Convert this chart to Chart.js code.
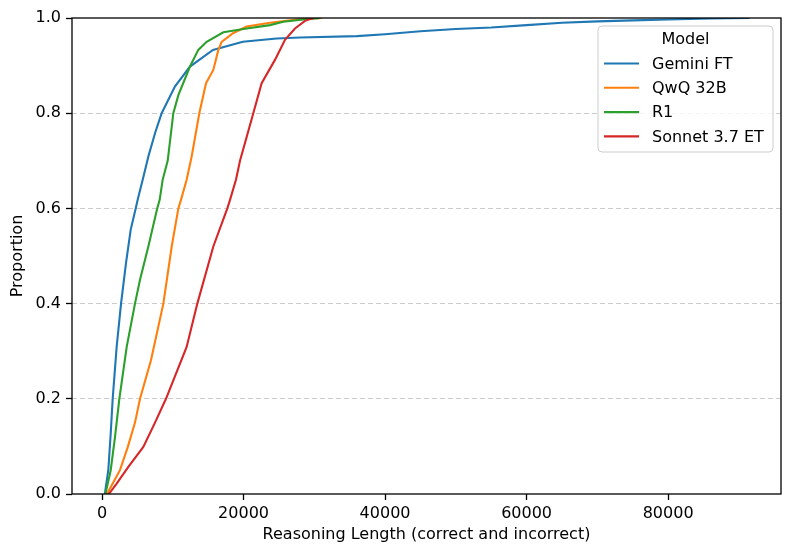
<!DOCTYPE html>
<html>
<head>
<meta charset="utf-8">
<script src="https://cdn.jsdelivr.net/npm/chart.js@4/dist/chart.umd.min.js"></script>
<style>
html,body{margin:0;padding:0;background:#fff;}
#wrap{width:793px;height:555px;position:relative;}
</style>
</head>
<body>
<div id="wrap"><canvas id="c" width="793" height="555"></canvas></div>
<script>
// ---- data ----
const seriesNames = ['Gemini FT', 'QwQ 32B', 'R1', 'Sonnet 3.7 ET'];
const seriesColors = ['#1f77b4', '#ff7f0e', '#2ca02c', '#d62728'];

const geminiLen  = [400, 890, 1230, 1510, 2070, 2690, 3390, 4050, 4760, 5040, 5750, 6550, 7490, 8430, 10300, 12430, 15680, 19900, 24680, 28000, 36000, 40000, 45000, 50000, 55000, 60000, 65000, 70000, 75000, 80000, 86000, 91500];
const geminiProp = [0, 0.05, 0.127, 0.2, 0.309, 0.4, 0.485, 0.555, 0.6, 0.618, 0.66, 0.709, 0.758, 0.8, 0.856, 0.898, 0.933, 0.95, 0.957, 0.959, 0.962, 0.966, 0.972, 0.977, 0.98, 0.985, 0.99, 0.993, 0.995, 0.997, 0.999, 1.0];

const qwqLen  = [600, 890, 2540, 3650, 4660, 5370, 6920, 8670, 9850, 10790, 11160, 11960, 12670, 13750, 14700, 15730, 16440, 16910, 18510, 20440, 23740, 27510, 31040];
const qwqProp = [0, 0.005, 0.05, 0.099, 0.15, 0.2, 0.281, 0.4, 0.52, 0.6, 0.618, 0.66, 0.709, 0.8, 0.863, 0.891, 0.933, 0.95, 0.968, 0.982, 0.99, 0.997, 1.0];

const r1Len  = [500, 565, 1230, 1840, 2450, 3490, 4660, 5370, 6550, 7800, 8150, 8570, 9280, 10080, 10790, 12430, 13610, 14790, 17140, 20440, 23740, 25620, 28450, 30800];
const r1Prop = [0, 0.005, 0.05, 0.12, 0.2, 0.309, 0.4, 0.45, 0.52, 0.6, 0.618, 0.66, 0.7, 0.8, 0.838, 0.898, 0.933, 0.95, 0.97, 0.978, 0.985, 0.992, 0.997, 1.0];

const sonnetLen  = [900, 1130, 2070, 3720, 5840, 7490, 9040, 11960, 13470, 15730, 17710, 18090, 18930, 19500, 21380, 22560, 24440, 25860, 27270, 28680, 29860];
const sonnetProp = [0, 0.003, 0.022, 0.057, 0.099, 0.15, 0.2, 0.309, 0.4, 0.52, 0.6, 0.618, 0.66, 0.7, 0.8, 0.863, 0.912, 0.954, 0.978, 0.994, 1.0];

const xTicks = [0, 20000, 40000, 60000, 80000];
const yTicks = [0, 0.2, 0.4, 0.6, 0.8, 1.0];
const xTitle = 'Reasoning Length (correct and incorrect)';
const yTitle = 'Proportion';
const legendTitle = 'Model';

// ---- build chart ----
const FONT = '"DejaVu Sans", "Liberation Sans", sans-serif';
Chart.defaults.font.family = FONT;
Chart.defaults.font.size = 16;
Chart.defaults.color = '#000';

const lens = [geminiLen, qwqLen, r1Len, sonnetLen];
const props = [geminiProp, qwqProp, r1Prop, sonnetProp];

const datasets = seriesNames.map((name, i) => ({
  label: name,
  data: lens[i].map((x, j) => ({x: x, y: props[i][j]})),
  borderColor: seriesColors[i],
  backgroundColor: seriesColors[i],
  borderWidth: 2.1,
  pointRadius: 0,
  tension: 0,
  fill: false,
  order: seriesNames.length - 1 - i
}));

const frameAndLegend = {
  id: 'frameAndLegend',
  afterDraw(chart) {
    const ctx = chart.ctx;
    const a = chart.chartArea;
    ctx.save();
    // spines
    ctx.strokeStyle = '#000';
    ctx.lineWidth = 1.3;
    ctx.setLineDash([]);
    ctx.strokeRect(a.left, a.top, a.right - a.left, a.bottom - a.top);
    // legend box
    const bx = 598, by = 26, bw = 175, bh = 126, r = 4;
    ctx.beginPath();
    ctx.moveTo(bx + r, by);
    ctx.lineTo(bx + bw - r, by);
    ctx.quadraticCurveTo(bx + bw, by, bx + bw, by + r);
    ctx.lineTo(bx + bw, by + bh - r);
    ctx.quadraticCurveTo(bx + bw, by + bh, bx + bw - r, by + bh);
    ctx.lineTo(bx + r, by + bh);
    ctx.quadraticCurveTo(bx, by + bh, bx, by + bh - r);
    ctx.lineTo(bx, by + r);
    ctx.quadraticCurveTo(bx, by, bx + r, by);
    ctx.closePath();
    ctx.fillStyle = 'rgba(255,255,255,0.8)';
    ctx.fill();
    ctx.strokeStyle = '#cccccc';
    ctx.lineWidth = 1;
    ctx.stroke();
    ctx.fillStyle = '#000';
    ctx.font = '16px ' + FONT;
    ctx.textBaseline = 'middle';
    ctx.textAlign = 'center';
    ctx.fillText(legendTitle, bx + bw / 2, 40);
    ctx.textAlign = 'left';
    seriesNames.forEach((name, i) => {
      const y = 63.5 + i * 24.3;
      ctx.strokeStyle = seriesColors[i];
      ctx.lineWidth = 2.1;
      ctx.beginPath();
      ctx.moveTo(604, y);
      ctx.lineTo(639, y);
      ctx.stroke();
      ctx.fillStyle = '#000';
      ctx.fillText(name, 652, y + 1);
    });
    ctx.restore();
  }
};

new Chart(document.getElementById('c'), {
  type: 'line',
  data: { datasets: datasets },
  options: {
    responsive: false,
    animation: false,
    events: [],
    layout: { padding: { left: 0, right: 12, top: 18, bottom: 0 } },
    plugins: { legend: { display: false }, tooltip: { enabled: false } },
    scales: {
      x: {
        type: 'linear',
        min: -4240,
        max: 95950,
        afterBuildTicks: (s) => { s.ticks = xTicks.map(v => ({value: v})); },
        afterFit: (s) => { s.height = 61; },
        ticks: { callback: (v) => String(v), padding: 4, maxRotation: 0, autoSkip: false, color: '#000' },
        grid: { display: true, drawOnChartArea: false, drawTicks: true, tickLength: 6, tickColor: '#000', tickWidth: 1.3, tickBorderDash: [] },
        border: { display: false },
        title: { display: true, text: xTitle, color: '#000', padding: { top: 0, bottom: 11 } }
      },
      y: {
        type: 'linear',
        min: 0,
        max: 1,
        afterBuildTicks: (s) => { s.ticks = yTicks.map(v => ({value: v})); },
        afterFit: (s) => { s.width = 72; },
        ticks: { callback: (v) => Number(v).toFixed(1), padding: 5, color: '#000' },
        grid: {
          display: true,
          drawOnChartArea: true,
          drawTicks: true,
          tickLength: 6,
          color: (c) => (c.tick && c.tick.value > 0.001 && c.tick.value < 0.999) ? '#cccccc' : 'rgba(0,0,0,0)',
          lineWidth: 1,
          tickColor: '#000',
          tickWidth: 1.3,
          tickBorderDash: []
        },
        border: { display: false, dash: [5, 3] },
        title: { display: true, text: yTitle, color: '#000', padding: { top: 8, bottom: 0 } }
      }
    }
  },
  plugins: [frameAndLegend]
});
</script>
</body>
</html>
